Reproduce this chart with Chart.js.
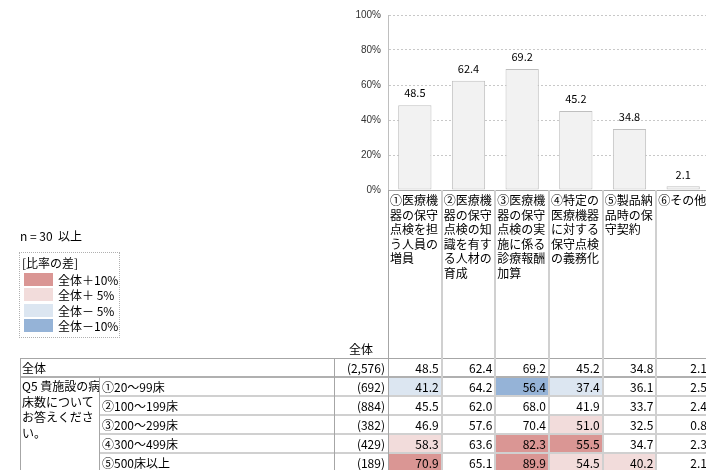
<!DOCTYPE html>
<html><head><meta charset="utf-8">
<script src="https://cdn.jsdelivr.net/npm/chart.js@4/dist/chart.umd.min.js"></script>
<style>
html,body{margin:0;padding:0;width:706px;height:470px;overflow:hidden;background:#fff;}
body{position:relative;font-family:"Noto Sans CJK JP","Noto Sans",sans-serif;color:#000;}
#wrap{position:absolute;left:0;top:0;width:712px;height:470px;}
#overlay{position:absolute;left:0;top:0;width:712px;height:470px;pointer-events:none;font-size:12px;}
#overlay div{position:absolute;box-sizing:border-box;white-space:nowrap;}
.t{display:flex;align-items:center;line-height:14px;}
</style></head>
<body>
<div id="wrap"><canvas id="c"></canvas></div>
<div id="overlay"></div>
<script>
// ---------- data ----------
const categories = [
  "①医療機器の保守点検を担う人員の増員",
  "②医療機器の保守点検の知識を有する人材の育成",
  "③医療機器の保守点検の実施に係る診療報酬加算",
  "④特定の医療機器に対する保守点検の義務化",
  "⑤製品納品時の保守契約",
  "⑥その他"
];
const overallValues = [48.5, 62.4, 69.2, 45.2, 34.8, 2.1];
const overallLabel = "全体";
const overallN = "(2,576)";
const questionLines = ["Q5 貴施設の病", "床数について", "お答えくださ", "い。"];
const rowLabels = ["①20～99床", "②100～199床", "③200～299床", "④300～499床", "⑤500床以上"];
const rowN = ["(692)", "(884)", "(382)", "(429)", "(189)"];
const row1Values = [41.2, 64.2, 56.4, 37.4, 36.1, 2.5];
const row2Values = [45.5, 62.0, 68.0, 41.9, 33.7, 2.4];
const row3Values = [46.9, 57.6, 70.4, 51.0, 32.5, 0.8];
const row4Values = [58.3, 63.6, 82.3, 55.5, 34.7, 2.3];
const row5Values = [70.9, 65.1, 89.9, 54.5, 40.2, 2.1];
const rowValues = [row1Values, row2Values, row3Values, row4Values, row5Values];
const yTickValues = [0, 20, 40, 60, 80, 100];
const nNote = "n = 30&nbsp; 以上";
const legendTitle = "[比率の差]";
const legendLabels = ["全体＋10%", "全体＋ 5%", "全体－ 5%", "全体－10%"];

// ---------- styles ----------
const COL_STRONG_POS = '#da9694', COL_POS = '#f2dcdb', COL_NEG = '#dce6f1', COL_STRONG_NEG = '#95b3d7';
const legendColors = [COL_STRONG_POS, COL_POS, COL_NEG, COL_STRONG_NEG];
function diffColor(v, base){
  const d = v - base;
  if (d >= 10) return COL_STRONG_POS;
  if (d >= 5) return COL_POS;
  if (d <= -10) return COL_STRONG_NEG;
  if (d <= -5) return COL_NEG;
  return null;
}

const valueLabelPlugin = {
  id: 'valueLabels',
  afterDatasetsDraw(chart){
    const ctx = chart.ctx;
    const meta = chart.getDatasetMeta(0);
    ctx.save();
    ctx.font = '11px "Noto Sans CJK JP", sans-serif';
    ctx.fillStyle = '#000';
    ctx.textAlign = 'center';
    ctx.textBaseline = 'middle';
    meta.data.forEach((bar, i) => {
      ctx.fillText(overallValues[i].toFixed(1), bar.x, bar.y - 12);
    });
    ctx.restore();
  }
};

const chart = new Chart(document.getElementById('c'), {
  type: 'bar',
  data: {
    labels: categories,
    datasets: [{
      data: overallValues,
      backgroundColor: '#f2f2f2',
      borderColor: '#bfbfbf',
      borderWidth: 1,
      borderSkipped: false,
      barPercentage: 0.62,
      categoryPercentage: 1
    }]
  },
  options: {
    responsive: true,
    maintainAspectRatio: false,
    animation: false,
    events: [],
    layout: { padding: { top: 15, right: 2, bottom: 280, left: 0 } },
    plugins: { legend: { display: false }, tooltip: { enabled: false } },
    scales: {
      x: { display: false },
      y: {
        min: 0, max: 100,
        afterBuildTicks(s){ s.ticks = yTickValues.map(v => ({ value: v })); },
        afterFit(s){ s.width = 388; },
        ticks: {
          callback: v => v + '%',
          font: { family: '"Liberation Sans", Arial, sans-serif', size: 10 },
          color: '#333333',
          padding: 7
        },
        grid: { color: '#c8c8c8', drawTicks: false, lineWidth: 1 },
        border: { display: true, color: '#bfbfbf', width: 1, dash: [2, 2] }
      }
    }
  },
  plugins: [valueLabelPlugin]
});

// ---------- table / labels overlay ----------
const ov = document.getElementById('overlay');
function box(x, y, w, h, style, html){
  const d = document.createElement('div');
  d.style.cssText = `left:${x}px;top:${y}px;width:${w}px;height:${h}px;` + (style || '');
  if (html != null) d.innerHTML = html;
  ov.appendChild(d);
  return d;
}
function hline(x1, x2, y, w, c){ box(x1, y, x2 - x1, w, `background:${c};`); }
function vline(x, y1, y2, w, c){ box(x, y1, w, y2 - y1, `background:${c};`); }

const xs = chart.scales.x;
const area = chart.chartArea;
const half = (xs.getPixelForValue(1) - xs.getPixelForValue(0)) / 2;
const bounds = categories.map((c, i) => xs.getPixelForValue(i) - half);
bounds.push(xs.getPixelForValue(categories.length - 1) + half);

const TABLE_TOP = 358, ROW0_H = 19, ROW_H = 19, TABLE_LEFT = 20, SUB_LEFT = 99, N_LEFT = 334;
const N_RIGHT = bounds[0];
const rowsTop = TABLE_TOP + ROW0_H;
const H = 470;

// n note and legend
box(20, 228, 120, 16, 'line-height:16px;', nNote);
box(19, 252, 101, 86, 'border:1px dotted #b0b0b0;');
box(22, 255, 95, 16, 'line-height:16px;', legendTitle);
legendLabels.forEach((t, i) => {
  const top = 273 + i * 15.3;
  box(24, top, 29, 13, `background:${legendColors[i]};`);
  box(58, top - 1, 60, 15, 'line-height:15px;', t);
});

// category labels under chart
categories.forEach((c, i) => {
  const lines = [];
  const chars = Array.from(c);
  for (let k = 0; k < chars.length; k += 4) lines.push(chars.slice(k, k + 4).join(''));
  box(bounds[i] + 2, area.bottom + 3, bounds[i + 1] - bounds[i] - 2, 160, 'line-height:14.5px;', lines.join('<br>'));
});

// header
box(N_LEFT, TABLE_TOP - 17, N_RIGHT - N_LEFT, 16, 'text-align:center;line-height:16px;', overallLabel);

// overall row
let d0 = box(TABLE_LEFT + 2, TABLE_TOP, 200, ROW0_H); d0.className = 't'; d0.textContent = overallLabel;
d0 = box(N_LEFT, TABLE_TOP, N_RIGHT - N_LEFT - 3, ROW0_H, 'justify-content:flex-end;'); d0.className = 't'; d0.textContent = overallN;
overallValues.forEach((v, i) => {
  const d = box(bounds[i], TABLE_TOP, bounds[i + 1] - bounds[i] - 3, ROW0_H, 'justify-content:flex-end;');
  d.className = 't'; d.textContent = v.toFixed(1);
});

// question cell
box(TABLE_LEFT + 2, rowsTop + 1, SUB_LEFT - TABLE_LEFT - 2, 80, 'line-height:15.5px;', questionLines.join('<br>'));

// sub rows
rowLabels.forEach((lab, r) => {
  const top = rowsTop + r * ROW_H;
  let d = box(SUB_LEFT + 3, top, N_LEFT - SUB_LEFT - 3, ROW_H); d.className = 't'; d.textContent = lab;
  d = box(N_LEFT, top, N_RIGHT - N_LEFT - 3, ROW_H, 'justify-content:flex-end;'); d.className = 't'; d.textContent = rowN[r];
  rowValues[r].forEach((v, i) => {
    const col = diffColor(v, overallValues[i]);
    if (col) box(bounds[i] + 1, top + 1, bounds[i + 1] - bounds[i] - 2, ROW_H - 1, `background:${col};`);
    const t = box(bounds[i], top, bounds[i + 1] - bounds[i] - 3, ROW_H, 'justify-content:flex-end;');
    t.className = 't'; t.textContent = v.toFixed(1);
  });
});

// lines
const GRID_DARK = '#a6a6a6', GRID_LIGHT = '#d0d0d0';
hline(bounds[0], 712, area.bottom, 1, GRID_DARK);
hline(TABLE_LEFT, 712, TABLE_TOP, 1, GRID_DARK);
hline(TABLE_LEFT, 712, rowsTop - 1, 2, '#b0b0b0');
for (let r = 1; r < rowLabels.length; r++) {
  hline(SUB_LEFT, 712, rowsTop + r * ROW_H - 1, 2, GRID_LIGHT);
}
vline(TABLE_LEFT, TABLE_TOP, H, 1, GRID_DARK);
vline(SUB_LEFT, rowsTop, H, 1, GRID_DARK);
vline(N_LEFT, TABLE_TOP, H, 1, GRID_DARK);
vline(bounds[0], area.bottom, H, 1, GRID_DARK);
for (let i = 1; i < bounds.length; i++) {
  vline(bounds[i] - 1, area.bottom, H, 2, GRID_LIGHT);
}
</script>
</body></html>
